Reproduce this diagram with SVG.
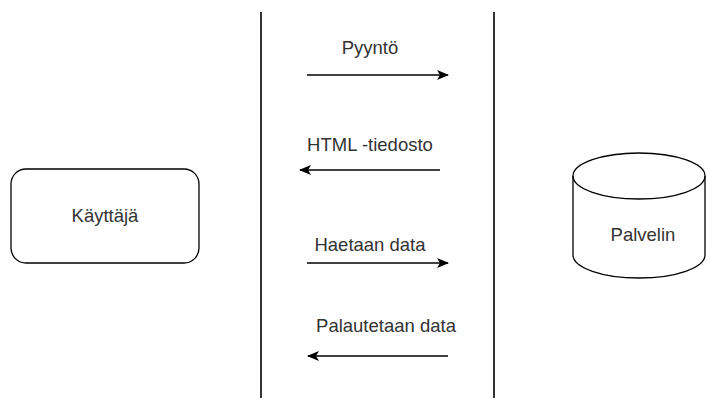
<svg xmlns="http://www.w3.org/2000/svg" width="707" height="398" viewBox="0 0 707 398">
<defs>
<style>
.s{fill:none;stroke:#000;stroke-width:1.6}
.n{fill:#fff;stroke:#000;stroke-width:1.3}
.t{font-family:"Liberation Sans",Arial,sans-serif;font-size:18.5px;fill:#333;text-anchor:middle}
</style>
<marker id="ah" viewBox="0 0 12 10" refX="11" refY="5" markerWidth="12" markerHeight="10" markerUnits="userSpaceOnUse" orient="auto">
<path d="M0,0 L12,5 L0,10 L3,5 Z" fill="#000"/>
</marker>
</defs>
<g id="lines">
<line class="s" x1="261" y1="12" x2="261" y2="398"/>
<line class="s" x1="494" y1="12" x2="494" y2="398"/>
</g>
<g id="user">
<rect class="n" x="11" y="169" width="188" height="94" rx="15" ry="15"/>
<text class="t" x="105" y="222">Käyttäjä</text>
</g>
<g id="server">
<path class="n" d="M573,176 A66,23 0 0 1 705,176 L705,255 A66,23 0 0 1 573,255 Z"/>
<path class="s" style="stroke-width:1.3" d="M573,176 A66,23 0 0 0 705,176"/>
<text class="t" x="643" y="241">Palvelin</text>
</g>
<g id="connectors">
<line class="s" x1="307" y1="75" x2="448" y2="75" marker-end="url(#ah)"/>
<line class="s" x1="440" y1="170" x2="300" y2="170" marker-end="url(#ah)"/>
<line class="s" x1="307" y1="263" x2="448" y2="263" marker-end="url(#ah)"/>
<line class="s" x1="448" y1="356" x2="308" y2="356" marker-end="url(#ah)"/>
</g>
<g id="labels">
<text class="t" x="370" y="54">Pyyntö</text>
<text class="t" x="370" y="151">HTML -tiedosto</text>
<text class="t" x="370" y="251">Haetaan data</text>
<text class="t" x="386" y="332">Palautetaan data</text>
</g>
</svg>
